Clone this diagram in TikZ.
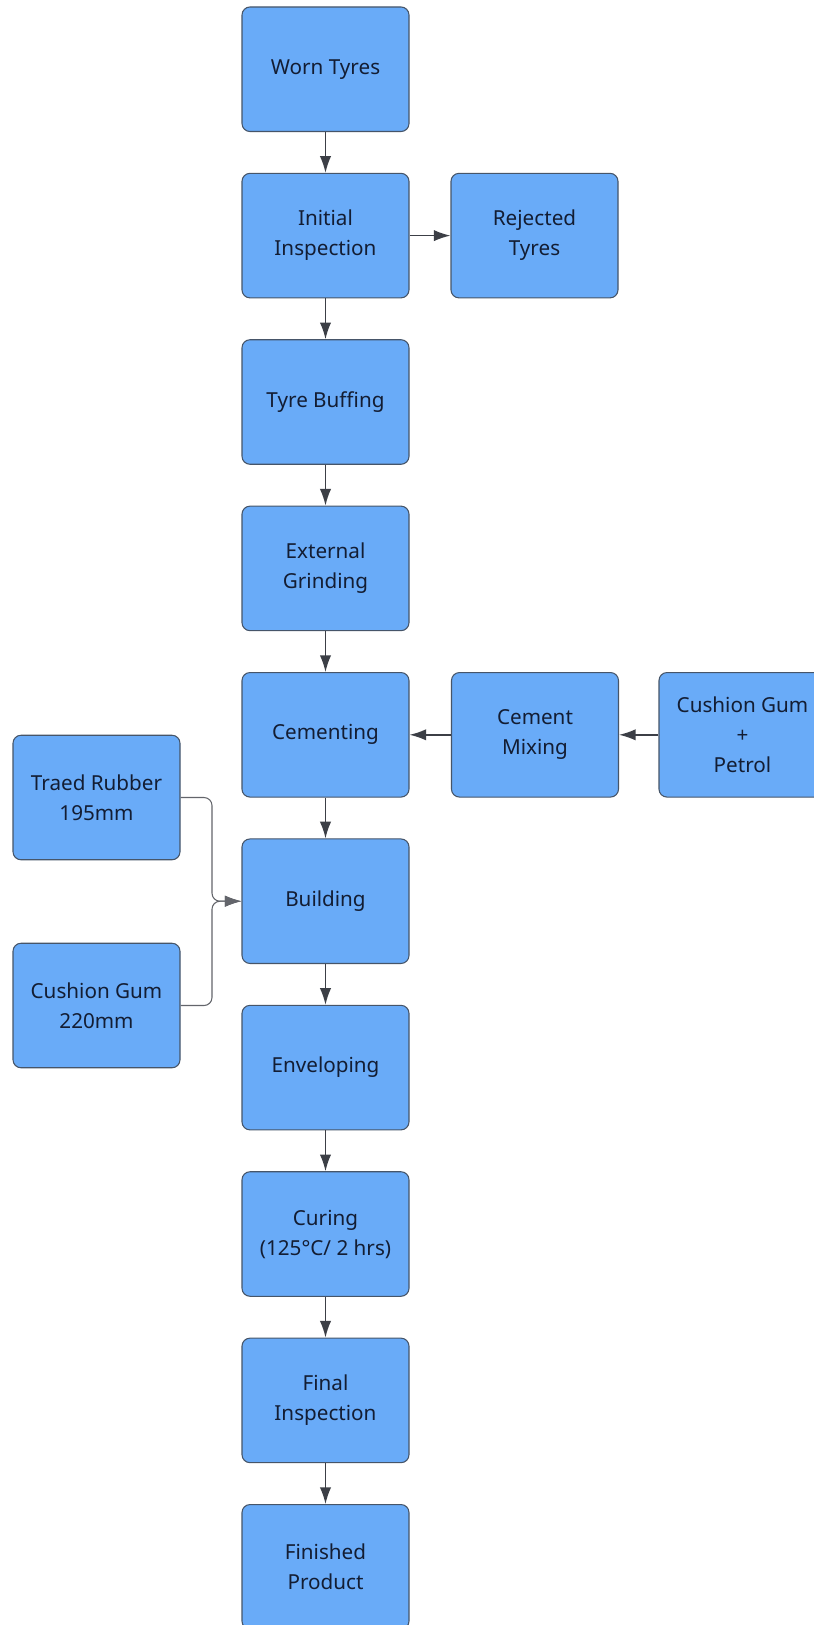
\documentclass[tikz,border=0pt]{standalone}
\usepackage{fontspec}
\setmainfont{Noto Sans}
\usetikzlibrary{arrows.meta}
\definecolor{boxfill}{HTML}{69ABF8}
\definecolor{boxline}{HTML}{465569}
\definecolor{boxtext}{HTML}{131D33}
\definecolor{arr}{HTML}{3C3F46}
\tikzset{
  procbox/.style={draw=boxline, line width=0.8pt, fill=boxfill, rounded corners=6pt,
    minimum width=125.25pt, minimum height=93.4pt, align=center, text=boxtext,
    font=\fontsize{15.5}{22.5}\selectfont, inner sep=2pt},
  flow/.style={draw=arr, line width=1.1pt, -{Latex[length=12.5pt,width=8.5pt]}},
  feed/.style={draw=arr!80, line width=0.8pt, rounded corners=6pt, -{Latex[length=12.5pt,width=8.5pt]}}
}
\begin{document}
\begin{tikzpicture}[x=0.75pt,y=-0.75pt]
\clip (0,0) rectangle (814,1625);
\fill[white] (0,0) rectangle (814,1625);
\node[procbox] (worn)  at (325.5, 69.25) {Worn Tyres};
\node[procbox] (init)  at (325.5, 235.6) {Initial\\Inspection};
\node[procbox] (buff)  at (325.5, 402.0) {Tyre Buffing};
\node[procbox] (grind) at (325.5, 568.4) {External\\Grinding};
\node[procbox] (cem)   at (325.5, 734.8) {Cementing};
\node[procbox] (build) at (325.5, 901.2) {Building};
\node[procbox] (env)   at (325.5, 1067.6) {Enveloping};
\node[procbox] (cure)  at (325.5, 1234.0) {Curing\\(125°C/ 2 hrs)};
\node[procbox] (final) at (325.5, 1400.4) {Final\\Inspection};
\node[procbox] (fin)   at (325.5, 1566.8) {Finished\\Product};
\node[procbox] (rej)   at (534.5, 235.6) {Rejected\\Tyres};
\node[procbox] (mix)   at (535.0, 734.8) {Cement\\Mixing};
\node[procbox] (cgp)   at (742.5, 734.8) {Cushion Gum\\+\\Petrol};
\node[procbox] (tr)    at (96.5, 797.5) {Traed Rubber\\195mm};
\node[procbox] (cg)    at (96.5, 1005.5) {Cushion Gum\\220mm};

\draw[flow] (worn) -- (init);
\draw[flow] (init) -- (buff);
\draw[flow] (buff) -- (grind);
\draw[flow] (grind) -- (cem);
\draw[flow] (cem) -- (build);
\draw[flow] (build) -- (env);
\draw[flow] (env) -- (cure);
\draw[flow] (cure) -- (final);
\draw[flow] (final) -- (fin);
\draw[flow] (init) -- (rej);
\draw[flow] (mix) -- (cem);
\draw[flow] (cgp) -- (mix);

\coordinate (j) at (212, 901.2);
\draw[feed] (tr.east) -| (j) -- (build.west);
\draw[feed] (cg.east) -| (j) -- (build.west);
\end{tikzpicture}
\end{document}
